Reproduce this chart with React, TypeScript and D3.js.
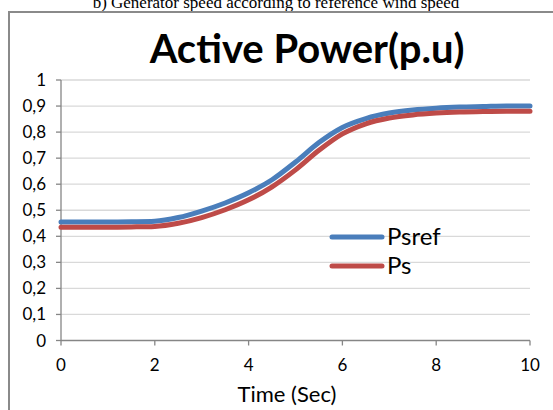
import React from "react";
import * as d3 from "d3";

const timeSec = [0, 0.5, 1, 1.5, 2, 2.5, 3, 3.5, 4, 4.5, 5, 5.5, 6, 6.5, 7, 7.5, 8, 8.5, 9, 9.5, 10];
const psref = [0.455, 0.455, 0.455, 0.456, 0.458, 0.472, 0.497, 0.528, 0.567, 0.617, 0.685, 0.76, 0.818, 0.852, 0.873, 0.885, 0.892, 0.896, 0.898, 0.9, 0.9];
const ps = [0.435, 0.435, 0.435, 0.436, 0.438, 0.45, 0.472, 0.502, 0.54, 0.59, 0.655, 0.73, 0.793, 0.832, 0.854, 0.866, 0.873, 0.877, 0.879, 0.88, 0.88];
const yTicks = [0, 0.1, 0.2, 0.3, 0.4, 0.5, 0.6, 0.7, 0.8, 0.9, 1];
const xTicks = [0, 2, 4, 6, 8, 10];
const seriesNames = ["Psref", "Ps"];
const seriesColors = ["#4A7EBB", "#BE4B48"];
const title = "Active Power(p.u)";
const xTitle = "Time (Sec)";
const caption = "b) Generator speed according to reference wind speed";

const W = 553;
const H = 410;
const left = 61, right = 530, top = 80, bottom = 340.5;
const font = "Lato, 'Open Sans', sans-serif";

export default function App() {
  const x = d3.scaleLinear().domain([0, 10]).range([left, right]);
  const y = d3.scaleLinear().domain([0, 1]).range([bottom, top]);
  const line = d3
    .line<number>()
    .x((_, i) => x(timeSec[i]))
    .y((d) => y(d))
    .curve(d3.curveMonotoneX);
  const series = [psref, ps];
  const fmt = (v: number) => d3.format(".1~f")(v).replace(".", ",");

  return (
    <svg width={W} height={H} style={{ position: "absolute", left: 0, top: 0 }} fontFamily={font}>
      <rect x={0} y={0} width={W} height={H} fill="#fff" />
      <text x={276} y={8} textAnchor="middle" fontFamily="'Liberation Serif', 'Times New Roman', serif" fontSize={17} fill="#000">
        {caption}
      </text>
      <rect x={9} y={12} width={W + 20} height={H + 20} fill="#fff" stroke="#8a8a8a" strokeWidth={2} />
      <text x={307} y={63} textAnchor="middle" fontSize={40} fontWeight="bold" fill="#000">
        {title}
      </text>
      {yTicks.map((t) => (
        <g key={t}>
          {t > 0 && <line x1={left} x2={right} y1={y(t)} y2={y(t)} stroke="#d9d9d9" strokeWidth={1.3} />}
          <line x1={left - 5} x2={left} y1={y(t)} y2={y(t)} stroke="#868686" strokeWidth={1.3} />
          <text x={left - 15} y={y(t) + 6} textAnchor="end" fontSize={17} fill="#000">
            {fmt(t)}
          </text>
        </g>
      ))}
      <line x1={left} x2={left} y1={top} y2={bottom} stroke="#868686" strokeWidth={1.3} />
      <line x1={left} x2={right} y1={bottom} y2={bottom} stroke="#868686" strokeWidth={1.3} />
      {xTicks.map((t) => (
        <g key={t}>
          <line x1={x(t)} x2={x(t)} y1={bottom} y2={bottom + 5} stroke="#868686" strokeWidth={1.3} />
          <text x={x(t)} y={bottom + 30} textAnchor="middle" fontSize={17} fill="#000">
            {t}
          </text>
        </g>
      ))}
      <text x={287} y={402} textAnchor="middle" fontSize={22} fill="#000">
        {xTitle}
      </text>
      {series.map((s, i) => (
        <path key={i} d={line(s) || ""} fill="none" stroke={seriesColors[i]} strokeWidth={5} strokeLinecap="round" />
      ))}
      {seriesNames.map((n, i) => (
        <g key={n}>
          <line x1={332} x2={382} y1={237 + i * 29} y2={237 + i * 29} stroke={seriesColors[i]} strokeWidth={5} strokeLinecap="round" />
          <text x={387} y={245 + i * 29} fontSize={24} fill="#000">
            {n}
          </text>
        </g>
      ))}
    </svg>
  );
}
